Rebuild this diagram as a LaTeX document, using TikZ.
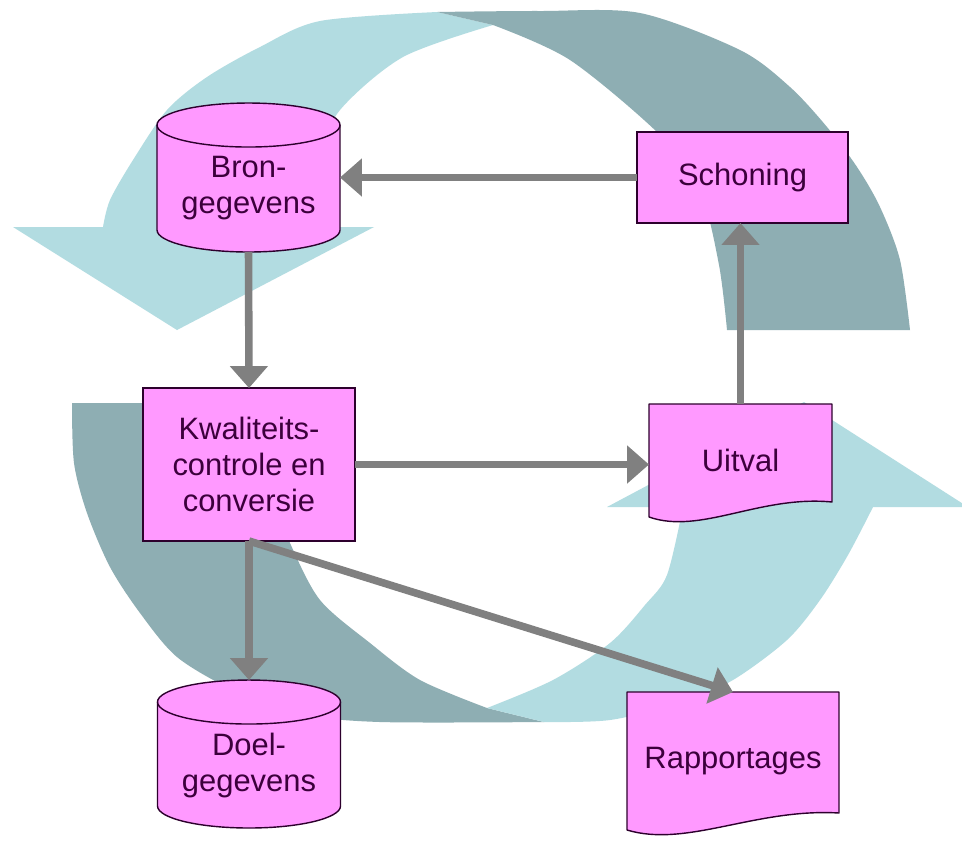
\documentclass[tikz,border=0pt]{standalone}
\usepackage{fontspec}
\setmainfont{Liberation Sans}
\usetikzlibrary{arrows.meta,calc}
\definecolor{lightteal}{RGB}{178,220,225}
\definecolor{darkteal}{RGB}{142,174,179}
\definecolor{nodepink}{RGB}{255,153,255}
\definecolor{nodeline}{RGB}{45,0,45}
\definecolor{txtcol}{RGB}{60,0,60}
\definecolor{conngray}{RGB}{128,128,128}
\pgfdeclarelayer{bg}
\pgfdeclarelayer{shapes}
\pgfsetlayers{bg,shapes,main}
\newcommand{\drawdocshape}[2]{%
  \draw[shapeline] (#1.north west) -- (#1.north east) -- ($(#1.south east)+(0,-#2)$)
    .. controls ($(#1.south west)!0.606!(#1.south east)+(0,-22)$) and ($(#1.south west)!0.28!(#1.south east)+(0,18)$) .. (#1.south west) -- cycle;}
\newcommand{\drawcyl}[1]{%
  \draw[shapeline] (#1.north west) -- ($(#1.south west)+(0,-22)$)
    arc[start angle=180, end angle=0, x radius=91.5, y radius=22]
    -- (#1.north east) arc[start angle=0, end angle=-180, x radius=91.5, y radius=22] -- cycle;
  \draw[shapeline, fill=none] (#1.north west) arc[start angle=180, end angle=0, x radius=91.5, y radius=22];}
\begin{document}
\begin{tikzpicture}[x=0.02cm, y=-0.02cm,
  lbl/.style={inner sep=0pt, outer sep=0pt, text=txtcol, align=center,
    font=\fontsize{17.6pt}{20.5pt}\selectfont},
  box/.style={lbl, draw=nodeline, fill=nodepink, line width=0.8pt},
  shapeline/.style={draw=nodeline, fill=nodepink, line width=0.8pt, line join=round},
  conn/.style={draw=conngray, line width=4.3pt, -{Triangle[width=21pt,length=12.5pt]}},
]
\useasboundingbox (0,0) rectangle (962,840);

% nodes
\node[box, minimum width=4.22cm, minimum height=1.82cm] (schon) at (742.5,177.5) {Schoning};
\node[box, minimum width=4.24cm, minimum height=3.06cm] (kwal) at (249,464.5) {Kwaliteits-\\controle en\\conversie};
\node[lbl, minimum width=3.66cm, minimum height=2.26cm] (uit) at (740.5,460.5) {Uitval};
\node[lbl, minimum width=4.24cm, minimum height=2.76cm] (rapp) at (733,761) {Rapportages};
\node[lbl, minimum width=3.66cm, minimum height=2.54cm] (bron) at (248.5,188.5) {Bron-\\gegevens};
\node[lbl, minimum width=3.66cm, minimum height=2.52cm] (doel) at (249,765) {Doel-\\gegevens};

% node shapes
\begin{pgfonlayer}{shapes}
  \drawcyl{bron}
  \drawcyl{doel}
  \drawdocshape{uit}{15}
  \drawdocshape{rapp}{17}
\end{pgfonlayer}

% big circular arrows
\begin{pgfonlayer}{bg}
  \fill[white] (0,0) rectangle (962,840);
  % upper arrow
  \fill[lightteal] plot[smooth] coordinates {(437,12) (320,21) (260,47) (207,77) (167,110) (133,160) (110,200) (103,227)}
    -- (13,227) -- (177,330) -- (374,227)
    -- plot[smooth] coordinates {(298,227) (318,160) (340,110) (403,57) (493,25)} -- cycle;
  \fill[darkteal] plot[smooth] coordinates {(437,12) (540,11) (640,13) (740,50) (790,87) (827,127) (857,167) (880,207) (900,260) (910,330)}
    -- plot[smooth] coordinates {(727,330) (719,265) (700,190) (660,135) (570,60) (493,25)} -- cycle;
  % lower arrow
  \fill[darkteal] plot[smooth] coordinates {(72,403) (74,463) (87,513) (110,567) (140,613) (177,657) (233,690) (300,714) (380,722) (544,722)}
    -- plot[smooth] coordinates {(487,708) (420,680) (370,643) (320,600) (290,543) (265,480) (256,440) (254,403)} -- cycle;
  \fill[lightteal] plot[smooth] coordinates {(544,722) (610,720) (680,703) (733,680) (787,640) (820,600) (848,555) (873,507)}
    -- (968,507) -- (804,402) -- (607,507)
    -- plot[smooth] coordinates {(683,507) (667,575) (645,605) (610,643) (553,680) (487,708)} -- cycle;
\end{pgfonlayer}

% connectors
\draw[conn] (schon.west) -- (schon.west -| bron.east);
\draw[conn] (bron.south) -- (kwal.north);
\draw[conn] (kwal.east) -- (kwal.east -| uit.west);
\draw[conn] (uit.north) -- (uit.north |- schon.south);
\draw[conn] (kwal.south) -- ($(doel.north)+(0,-22)$);
\draw[conn] (kwal.south) -- (rapp.north);
\end{tikzpicture}
\end{document}
